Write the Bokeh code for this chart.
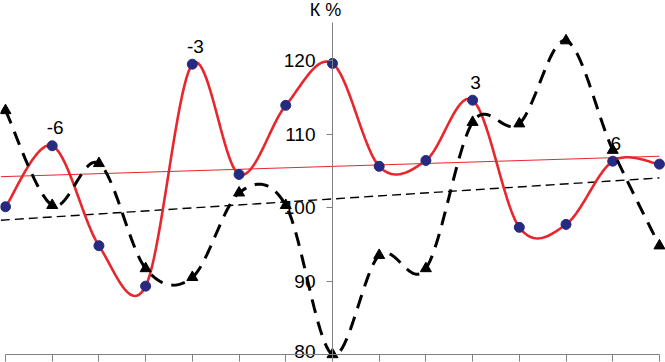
import numpy as np
from bokeh.plotting import figure
from bokeh.models import LinearAxis, FixedTicker, Range1d
from bokeh.embed import file_html
from bokeh.resources import INLINE
from bokeh.core.properties import value

categories = list(range(-7, 8))
red_values = [100.1, 108.4, 94.8, 89.3, 119.5, 104.5, 113.9, 119.6, 105.6, 106.4, 114.6, 97.3, 97.7, 106.3, 105.9]
black_values = [113.2, 100.3, 106.0, 91.7, 90.5, 102.0, 100.3, 80.0, 93.5, 91.7, 111.6, 111.4, 122.7, 107.8, 94.8]
y_ticks = [80, 90, 100, 110, 120]
y_tick_labels = ["80", "90", "100", "110", "120"]
label_cats = [-6, -3, 3, 6]
label_texts = ["-6", "-3", "3", "6"]
axis_title = "К %"

FONT = value("Liberation Sans")


def smooth(xs, ys, n=24):
    P = np.column_stack([np.asarray(xs, float), np.asarray(ys, float)])
    ext = np.vstack([P[0], P, P[-1]])
    t = np.linspace(0, 1, n)[:, None]
    out = []
    for i in range(len(P) - 1):
        p0, p1, p2, p3 = ext[i], ext[i + 1], ext[i + 2], ext[i + 3]
        c1 = p1 + (p2 - p0) / 6.0
        c2 = p2 - (p3 - p1) / 6.0
        seg = (1 - t) ** 3 * p1 + 3 * (1 - t) ** 2 * t * c1 + 3 * (1 - t) * t ** 2 * c2 + t ** 3 * p2
        out.append(seg if i == 0 else seg[1:])
    arr = np.vstack(out)
    return arr[:, 0], arr[:, 1]


W, H = 665, 362
px_per_x = 46.71
px_per_y = 7.35
x0 = -7 - 5 / px_per_x
x1 = x0 + W / px_per_x
y0 = 80 - (H - 354) / px_per_y
y1 = y0 + H / px_per_y

p = figure(width=W, height=H, output_backend="svg", toolbar_location=None,
           x_range=Range1d(x0, x1), y_range=Range1d(y0, y1),
           x_axis_type=None, y_axis_type=None, min_border=0)
p.outline_line_color = None
p.background_fill_color = "white"
p.border_fill_color = "white"

yax = LinearAxis(ticker=FixedTicker(ticks=y_ticks), fixed_location=0, bounds=(80, 125.2))
yax.axis_line_color = "#808080"
yax.major_tick_line_color = "#808080"
yax.major_tick_out = 6
yax.major_tick_in = 0
yax.minor_tick_out = 0
yax.minor_tick_in = 0
yax.major_label_text_color = None
p.add_layout(yax, "left")

xax = LinearAxis(ticker=FixedTicker(ticks=categories), fixed_location=80, bounds=(-7, 7))
xax.axis_line_color = "#808080"
xax.major_tick_line_color = "#808080"
xax.major_tick_out = 7
xax.major_tick_in = 0
xax.minor_tick_out = 0
xax.minor_tick_in = 0
xax.major_label_text_color = None
p.add_layout(xax, "below")

# y tick labels (lowest one kept just inside the bottom edge)
p.text([0] * (len(y_ticks) - 1), y_ticks[1:], text=y_tick_labels[1:], text_font=FONT,
       text_font_size="19px", text_align="right", text_baseline="middle",
       x_offset=-17, y_offset=0, text_color="black")
p.text([0], y_ticks[:1], text=y_tick_labels[:1], text_font=FONT,
       text_font_size="19px", text_align="right", text_baseline="bottom",
       x_offset=-17, y_offset=3, text_color="black")

# trend lines (linear least squares on the data)
cx = np.array(categories, float)
rk = np.polyfit(cx, red_values, 1)
bk = np.polyfit(cx, black_values, 1)
tx = np.array([-7.1, 7.0])
p.line(tx, np.polyval(rk, tx), line_color="#e8262d", line_width=1)
p.line(tx, np.polyval(bk, tx), line_color="black", line_width=1.4, line_dash="9 5")

# red smoothed series
sx, sy = smooth(categories, red_values)
p.line(sx, sy, line_color="#e8262d", line_width=2.6)
p.scatter(categories, red_values, size=10, marker="circle", fill_color="#262a80", line_color="#262a80")

# black dashed smoothed series
bx, by = smooth(categories, black_values)
p.line(bx, by, line_color="black", line_width=3, line_dash="14 9")
p.scatter(categories, black_values, size=11, marker="triangle", fill_color="black", line_color="black")

# point labels
lab_y = [red_values[categories.index(c)] for c in label_cats]
p.text(label_cats, lab_y, text=label_texts, text_font=FONT,
       text_font_size="19px", text_align="center", text_baseline="middle",
       x_offset=3, y_offset=-18, text_color="black")

# axis title
p.text([0], [126.85], text=[axis_title], text_font=FONT, text_font_size="18px",
       text_align="center", text_baseline="middle", x_offset=-7, text_color="black")

open("out.html", "w").write(file_html(p, INLINE))
